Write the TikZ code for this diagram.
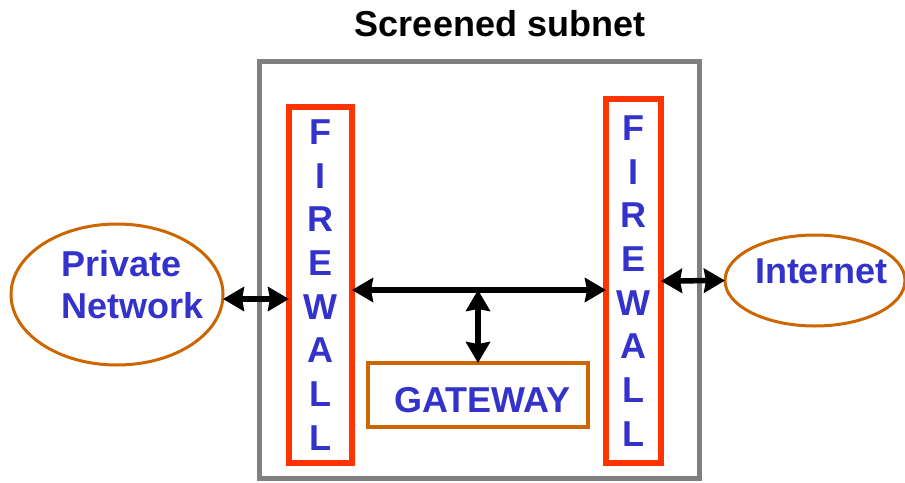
\documentclass[tikz,border=0pt]{standalone}
\usepackage{fontspec}
\setmainfont{Liberation Sans}
\usepackage{xcolor}
\usepackage{tikz}
\usetikzlibrary{arrows.meta,shapes.geometric}
\definecolor{fwred}{HTML}{FF3300}
\definecolor{netorange}{HTML}{CC6600}
\definecolor{labelblue}{HTML}{3333CC}
\definecolor{boxgray}{HTML}{808080}

\begin{document}
\begin{tikzpicture}[x=1pt, y=-1pt,
    big/.style={font=\fontsize{36}{42}\selectfont\bfseries, text=labelblue},
    firewall/.style={draw=fwred, line width=6pt, outer sep=0pt, inner sep=0pt, align=center, text=labelblue, font=\fontsize{36}{43.7}\selectfont\bfseries},
    cloud/.style={ellipse, draw=netorange, line width=3pt, outer sep=0pt, inner sep=0pt},
    link/.style={{Stealth[length=21pt,width=24pt,inset=2pt]}-{Stealth[length=21pt,width=24pt,inset=2pt]}, line width=5.5pt}]
    \useasboundingbox (0,0) rectangle (905,482);
    \node[font=\fontsize{36}{42}\selectfont\bfseries, anchor=base] (title) at (500,36) {Screened subnet};
    \node[draw=boxgray, line width=5pt, minimum width=440pt, minimum height=417pt] (subnet) at (479,269.5) {};
    \node[firewall, minimum width=63pt, minimum height=356pt] (fwleft) at (320.5,285) {F\\I\\R\\E\\W\\A\\L\\L};
    \node[firewall, minimum width=55pt, minimum height=364pt] (fwright) at (633.5,281) {F\\I\\R\\E\\W\\A\\L\\L};
    \node[draw=netorange, line width=4pt, outer sep=0pt, minimum width=220pt, minimum height=64pt] (gateway) at (478,395) {};
    \node[big] (gwlabel) at (482.5,400.5) {GATEWAY};
    \node[cloud, minimum width=212pt, minimum height=141pt] (private) at (117,294.5) {};
    \node[big, align=left] (privlabel) at (132.5,285) {Private\\Network};
    \node[cloud, minimum width=180pt, minimum height=91pt] (internet) at (815,280.5) {};
    \node[big] (inetlabel) at (821,271.5) {Internet};
    \coordinate (junction) at (478,290);
    \draw[link] ([yshift=-4.5pt]private.east) -- ([yshift=-14pt]fwleft.west);
    \draw[link] ([yshift=-5pt]fwleft.east) -- ([yshift=-9pt]fwright.west);
    \draw[link] (junction) -- (gateway.north);
    \draw[link] (fwright.east) -- (internet.west);
\end{tikzpicture}
\end{document}
